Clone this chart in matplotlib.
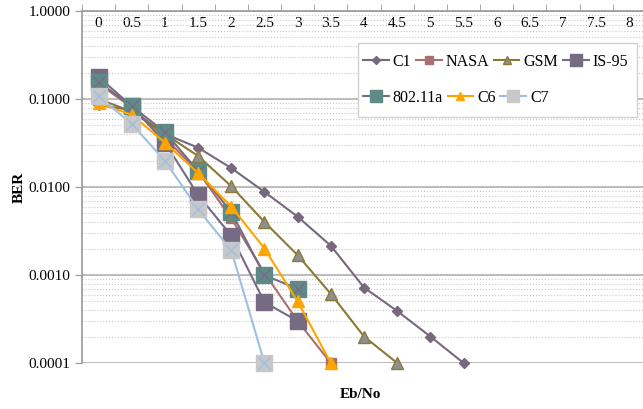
import matplotlib
matplotlib.use('Agg')
import matplotlib.pyplot as plt
from matplotlib.patches import Rectangle
from matplotlib.ticker import FixedLocator, NullFormatter

plt.rcParams['font.family'] = ['Liberation Serif', 'DejaVu Serif']

# Eb/No categories
ebno = ['0', '0.5', '1', '1.5', '2', '2.5', '3', '3.5', '4', '4.5',
        '5', '5.5', '6', '6.5', '7', '7.5', '8']

# BER values
c1 = [0.085, 0.075, 0.040, 0.028, 0.0164, 0.0088, 0.0046, 0.00215, 0.00072, 0.00039, 0.0002, 0.0001]
nasa = [0.15, 0.08, 0.036, 0.015, 0.0044, 0.00105, 0.0003, 0.0001]
gsm = [0.10, 0.072, 0.040, 0.0225, 0.0102, 0.004, 0.00168, 0.00061, 0.0002, 0.0001]
is95 = [0.178, 0.083, 0.032, 0.0081, 0.0028, 0.00049, 0.0003]
w80211a = [0.156, 0.083, 0.042, 0.0152, 0.0052, 0.00099, 0.0007]
c6 = [0.09, 0.066, 0.032, 0.0144, 0.006, 0.002, 0.0005, 0.0001]
c7 = [0.108, 0.052, 0.0198, 0.0056, 0.0019, 0.0001]

fig = plt.figure(figsize=(6.43, 4.09), dpi=100)
ax = fig.add_axes([82 / 643, 1 - 363 / 409, 564 / 643, 352 / 409])

h_c1, = ax.plot(range(len(c1)), c1, color='#77687f', marker='D', ms=5.5, lw=1.5, label='C1')
h_nasa, = ax.plot(range(len(nasa)), nasa, color='#a8706e', marker='s', ms=7, lw=1.5, label='NASA')
h_gsm, = ax.plot(range(len(gsm)), gsm, color='#8a7a34', marker='^', ms=8, mfc='#8f8f8f',
                 mec='#8a7a34', lw=1.5, label='GSM')
h_is95, = ax.plot(range(len(is95)), is95, color='#776a83', marker='s', ms=11, lw=1.5, label='IS-95')
h_w, = ax.plot(range(len(w80211a)), w80211a, color='#776a83', marker='s', ms=11, mfc='#5e8b85',
               mec='#5e8b85', lw=1.5, label='802.11a')
x_w, = ax.plot(range(len(w80211a)), w80211a, ls='none', marker='x', ms=8, mew=1, color='#7a6a86')
h_c6, = ax.plot(range(len(c6)), c6, color='#ffa500', marker='^', ms=8, lw=1.5, label='C6')
h_c7, = ax.plot(range(len(c7)), c7, color='#9dbfe3', marker='s', ms=11, mfc='#c8c8c8',
                mec='#c8c8c8', lw=1.5, label='C7')
x_c7, = ax.plot(range(len(c7)), c7, ls='none', marker='x', ms=8, mew=1, color='#9dbfe3')
for ln in [h_c1, h_nasa, h_gsm, h_is95, h_w, x_w, h_c6, h_c7, x_c7]:
    ln.set_clip_on(False)

ax.set_yscale('log')
ax.set_ylim(0.0001, 1.0)
ax.set_xlim(-0.5, len(ebno) - 0.5)
ax.set_yticks([0.0001, 0.001, 0.01, 0.1, 1.0])
ax.set_yticklabels(['0.0001', '0.0010', '0.0100', '0.1000', '1.0000'], fontsize=11)
ax.yaxis.set_minor_formatter(NullFormatter())
ax.tick_params(axis='y', which='major', length=5, color='#9a9a9a')
ax.tick_params(axis='y', which='minor', length=0)

ax.xaxis.tick_top()
ax.set_xticks(range(len(ebno)))
ax.set_xticklabels(ebno, fontsize=11)
ax.xaxis.set_minor_locator(FixedLocator([i - 0.5 for i in range(len(ebno) + 1)]))
ax.tick_params(axis='x', which='major', length=0, pad=-14)
ax.tick_params(axis='x', which='minor', length=5, color='#9a9a9a', direction='out')

ax.grid(True, which='major', axis='y', color='#b0b0b0', lw=1.2)
ax.grid(True, which='minor', axis='y', color='#c8c8c8', lw=0.8, ls=':')
ax.set_axisbelow(True)

for s in ['right', 'bottom']:
    ax.spines[s].set_visible(False)
for s in ['left', 'top']:
    ax.spines[s].set_color('#9a9a9a')
    ax.spines[s].set_linewidth(1.2)

ax.set_ylabel('BER', fontsize=11, fontweight='bold', labelpad=2)
fig.text(360 / 643, 1 - 395 / 409, 'Eb/No', fontsize=11, fontweight='bold', ha='center', va='center')

# legend frame and two rows
fig.patches.append(Rectangle((358 / 643, 1 - 117 / 409), 279 / 643, 74 / 409,
                             transform=fig.transFigure, facecolor='white',
                             edgecolor='#d0d0d0', lw=1.0, zorder=3))
leg_kw = dict(fontsize=11.5, frameon=False, handlelength=1.6, handletextpad=0.25,
              columnspacing=0.3, borderpad=0, borderaxespad=0, markerscale=0.75)
row1 = [h_c1, h_nasa, h_gsm, h_is95]
row2 = [h_w, h_c6, h_c7]
leg1 = fig.legend(handles=row1, labels=[h.get_label() for h in row1], ncol=4,
                  loc='center left', bbox_to_anchor=(363 / 643, 1 - 62 / 409), **leg_kw)
leg2 = fig.legend(handles=row2, labels=[h.get_label() for h in row2], ncol=3,
                  loc='center left', bbox_to_anchor=(363 / 643, 1 - 98 / 409), **leg_kw)
leg1.set_zorder(4)
leg2.set_zorder(4)

fig.savefig('out.png', dpi=100)
